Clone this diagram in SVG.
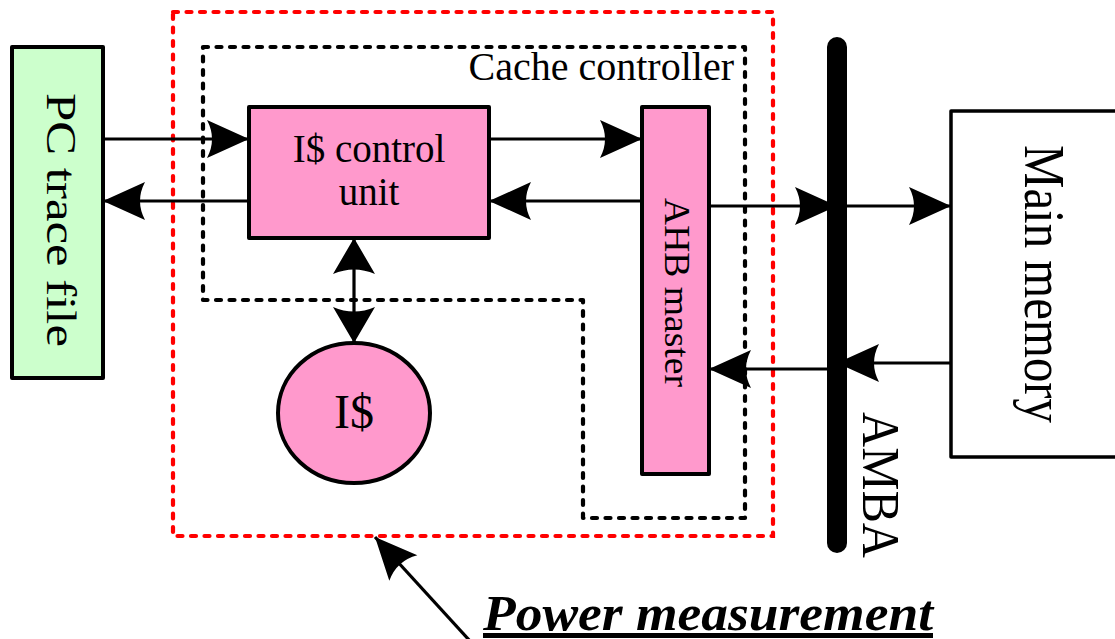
<svg xmlns="http://www.w3.org/2000/svg" width="1115" height="639" viewBox="0 0 1115 639">
  <style>
    .box { stroke: #000; stroke-width: 4; stroke-linejoin: round; }
    .pink { fill: #ff99cc; }
    .green { fill: #ccffcc; }
    .plain { fill: #fff; stroke-width: 3.5; }
    .lbl { font-family: "Liberation Serif", "Times New Roman", serif; fill: #000; }
    .wire { fill: none; stroke: #000; stroke-width: 3.2; }
    .dash-red { fill: none; stroke: #ff0000; stroke-width: 4.2; stroke-dasharray: 5 8.5; stroke-linecap: round; }
    .dash-blk { fill: none; stroke: #000; stroke-width: 4.2; stroke-dasharray: 5 8.5; stroke-linecap: round; stroke-linejoin: round; }
  </style>
  <defs>
    <marker id="ah" viewBox="-44 -21 46 42" refX="0" refY="0" markerWidth="46" markerHeight="42" markerUnits="userSpaceOnUse" orient="auto-start-reverse">
      <path d="M0,0 L-42,-19 Q-32,0 -42,19 Z" fill="#000"/>
    </marker>
    <marker id="ahv" viewBox="-40 -23 42 46" refX="0" refY="0" markerWidth="42" markerHeight="46" markerUnits="userSpaceOnUse" orient="auto-start-reverse">
      <path d="M0,0 L-36,-21 Q-27,0 -36,21 Z" fill="#000"/>
    </marker>
  </defs>

  <!-- measured region and cache controller boundaries -->
  <g id="power-region">
    <rect class="dash-red" x="173" y="12" width="600" height="524"/>
  </g>
  <g id="cache-controller">
    <path class="dash-blk" d="M203,47 H745 V518 H583 V300 H203 Z"/>
    <text class="lbl" x="734" y="80" font-size="40" text-anchor="end">Cache controller</text>
  </g>

  <g id="pc-trace-file">
    <rect class="box green" x="12" y="47" width="91" height="331"/>
    <text class="lbl" transform="translate(47,220) rotate(90)" font-size="42" text-anchor="middle" textLength="254" lengthAdjust="spacingAndGlyphs">PC trace file</text>
  </g>

  <g id="icache-control-unit">
    <rect class="box pink" x="249" y="107" width="240" height="131"/>
    <text class="lbl" x="369" y="162" font-size="39" text-anchor="middle">I$ control</text>
    <text class="lbl" x="369" y="205" font-size="39" text-anchor="middle">unit</text>
  </g>

  <g id="ahb-master">
    <rect class="box pink" x="642" y="107" width="67" height="367"/>
    <text class="lbl" transform="translate(665,292.5) rotate(90)" font-size="35" text-anchor="middle" textLength="189" lengthAdjust="spacingAndGlyphs">AHB master</text>
  </g>

  <g id="icache">
    <ellipse class="box pink" cx="354" cy="413" rx="76" ry="70"/>
    <text class="lbl" x="354" y="428" font-size="48" text-anchor="middle">I$</text>
  </g>

  <g id="main-memory">
    <rect class="box plain" x="951" y="111" width="170" height="346"/>
    <text class="lbl" transform="translate(1025,284) rotate(90)" font-size="56" text-anchor="middle" textLength="278" lengthAdjust="spacingAndGlyphs">Main memory</text>
  </g>

  <g id="connectors">
    <path class="wire" d="M103,139 H249" marker-end="url(#ah)"/>
    <path class="wire" d="M249,201 H103" marker-end="url(#ah)"/>
    <path class="wire" d="M489,139 H642" marker-end="url(#ah)"/>
    <path class="wire" d="M642,201 H489" marker-end="url(#ah)"/>
    <path class="wire" d="M709,206 H837" marker-end="url(#ah)"/>
    <path class="wire" d="M837,206 H951" marker-end="url(#ah)"/>
    <path class="wire" d="M951,363 H837" marker-end="url(#ah)"/>
    <path class="wire" d="M837,369 H709" marker-end="url(#ah)"/>
    <path class="wire" d="M354,238 V343" marker-start="url(#ahv)" marker-end="url(#ahv)"/>
    <path class="wire" d="M470,641 L375,537" stroke-width="4.2" marker-end="url(#ah)"/>
  </g>

  <g id="amba-bus">
    <line x1="837" y1="47" x2="837" y2="543" stroke="#000" stroke-width="20" stroke-linecap="round"/>
    <text class="lbl" transform="translate(863,485) rotate(90)" font-size="52" text-anchor="middle" textLength="146" lengthAdjust="spacingAndGlyphs">AMBA</text>
  </g>

  <g id="power-label">
    <text class="lbl" x="483" y="630" font-size="50" font-weight="bold" font-style="italic" text-decoration="underline" textLength="450" lengthAdjust="spacingAndGlyphs">Power measurement</text>
  </g>
</svg>
